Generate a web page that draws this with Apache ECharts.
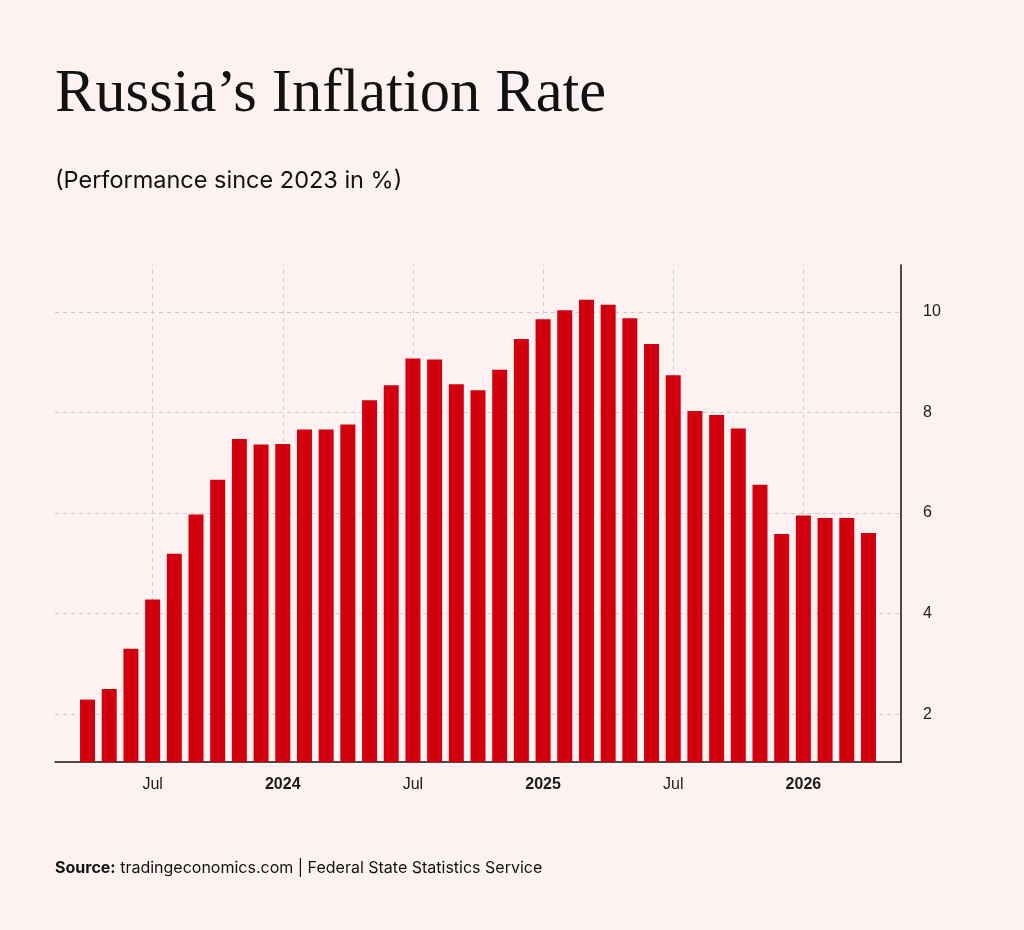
<!DOCTYPE html>
<html>
<head>
<meta charset="UTF-8" />
<title>Russia's Inflation Rate</title>
<script src="https://cdn.jsdelivr.net/npm/echarts@6/dist/echarts.min.js"></script>
<style>
* { margin: 0; padding: 0; }
html, body { width: 100%; height: 100%; background: #fdf2f1; }
#chart { width: 1024px; height: 930px; }
</style>
</head>
<body>
<div id="chart"></div>
<script>
// one slot per month, the first and last slots stay empty (padding)
let months = [
  '2023-03', '2023-04', '2023-05', '2023-06', '2023-07', '2023-08', '2023-09', '2023-10', '2023-11', '2023-12',
  '2024-01', '2024-02', '2024-03', '2024-04', '2024-05', '2024-06', '2024-07', '2024-08', '2024-09', '2024-10', '2024-11', '2024-12',
  '2025-01', '2025-02', '2025-03', '2025-04', '2025-05', '2025-06', '2025-07', '2025-08', '2025-09', '2025-10', '2025-11', '2025-12',
  '2026-01', '2026-02', '2026-03', '2026-04', '2026-05'
]
// yearly inflation in %
let inflation = [
  null, 2.29, 2.50, 3.30, 4.28, 5.19, 5.97, 6.66, 7.47, 7.36,
  7.37, 7.66, 7.66, 7.76, 8.24, 8.54, 9.07, 9.05, 8.56, 8.44, 8.85, 9.46,
  9.85, 10.03, 10.24, 10.14, 9.87, 9.36, 8.74, 8.03, 7.95, 7.68, 6.56, 5.58,
  5.95, 5.90, 5.90, 5.60, null
]
let tickMonths = ['2023-07', '2024-01', '2024-07', '2025-01', '2025-07', '2026-01']
let tickLabels = ['Jul', '2024', 'Jul', '2025', 'Jul', '2026']
let yTicks = [2, 4, 6, 8, 10]

let sans = '"Liberation Sans", Arial, sans-serif'
let gridColor = '#cfcaca'

let chart = echarts.init(document.getElementById('chart'), null, { renderer: 'canvas' })

function isTick(index, value) {
  return tickMonths.indexOf(value) >= 0
}

let option = {
  backgroundColor: '#fdf2f1',
  animation: false,
  graphic: [
    {
      type: 'text', x: 55, y: 95,
      style: { text: 'Russia\u2019s Inflation Rate', font: '60.5px "Liberation Serif", "Times New Roman", serif', fill: '#111', verticalAlign: 'middle' }
    },
    {
      type: 'text', x: 55, y: 181,
      style: { text: '(Performance since 2023 in %)', font: '23.5px Inter, sans-serif', fill: '#111', verticalAlign: 'middle' }
    },
    {
      type: 'text', x: 55, y: 868,
      style: {
        text: '{b|Source:} tradingeconomics.com | Federal State Statistics Service',
        font: '16px Inter, sans-serif', fill: '#111', verticalAlign: 'middle',
        rich: { b: { fontWeight: 'bold', fontFamily: 'Inter, sans-serif', fontSize: 16, fill: '#111' } }
      }
    }
  ],
  grid: { left: 55, right: 123, top: 265, bottom: 168, containLabel: false },
  xAxis: {
    type: 'category',
    data: months,
    boundaryGap: true,
    axisLine: { lineStyle: { color: '#111', width: 1.5 } },
    axisTick: { interval: isTick, alignWithLabel: true, length: 6, lineStyle: { color: '#111', width: 1.5 } },
    axisLabel: {
      interval: isTick,
      margin: 15,
      fontFamily: sans,
      fontSize: 16,
      color: '#1a1a1a',
      formatter: function (value) {
        let label = tickLabels[tickMonths.indexOf(value)]
        return label === 'Jul' ? label : '{y|' + label + '}'
      },
      rich: { y: { fontWeight: 'bold', fontFamily: sans, fontSize: 16, color: '#1a1a1a' } }
    },
    splitLine: { show: false }
  },
  yAxis: {
    type: 'value',
    position: 'right',
    min: 1.05,
    max: 10.93,
    axisLine: { show: true, lineStyle: { color: '#111', width: 1.5 } },
    axisTick: { show: false },
    splitLine: { show: false },
    axisLabel: {
      customValues: yTicks,
      margin: 22,
      fontFamily: sans,
      fontSize: 16,
      color: '#1a1a1a'
    }
  },
  series: [
    {
      type: 'bar',
      data: inflation,
      barWidth: 15,
      itemStyle: { color: '#d2000e' },
      z: 3,
      markLine: {
        silent: true,
        symbol: ['none', 'none'],
        z: 1,
        animation: false,
        label: { show: false },
        lineStyle: { color: gridColor, type: [4, 4], width: 1 },
        data: tickMonths.map(m => ({ xAxis: m })).concat(yTicks.map(v => ({ yAxis: v })))
      }
    }
  ]
}

chart.setOption(option)
</script>
</body>
</html>
